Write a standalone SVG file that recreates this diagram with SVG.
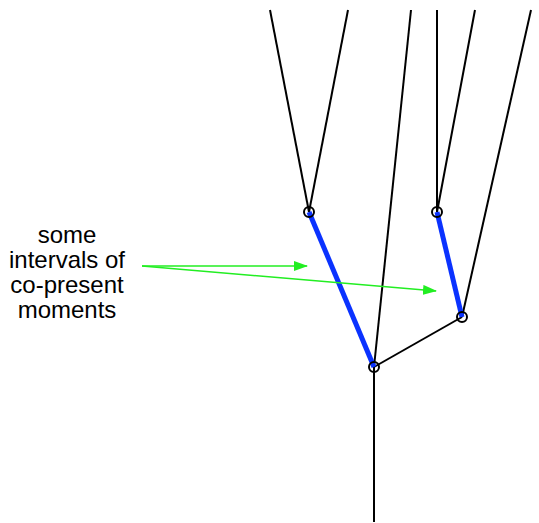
<svg xmlns="http://www.w3.org/2000/svg" width="539" height="523" viewBox="0 0 539 523">
<defs>
<style>
.ln{stroke:#000;stroke-width:2;fill:none}
.bl{stroke:#0a32ff;stroke-width:5;fill:none}
.gr{stroke:#22ee22;stroke-width:1.5;fill:none}
.nd{fill:none;stroke:#000;stroke-width:2}
text{font-family:"Liberation Sans",Arial,sans-serif;font-size:24px;fill:#000;text-anchor:middle}
</style>
<marker id="ah" markerWidth="14" markerHeight="10" refX="13" refY="5" orient="auto" markerUnits="userSpaceOnUse">
<path d="M0,0 L14,5 L0,10 Z" fill="#22ee22"/>
</marker>
</defs>
<g id="connectors">
<line class="ln" x1="270" y1="10" x2="309" y2="212"/>
<line class="ln" x1="348" y1="10" x2="309" y2="212"/>
<line class="ln" x1="411" y1="10" x2="374" y2="367"/>
<line class="ln" x1="437" y1="10" x2="437" y2="212"/>
<line class="ln" x1="475" y1="10" x2="437" y2="212"/>
<line class="ln" x1="531" y1="10" x2="462" y2="317"/>
<line class="ln" x1="374" y1="367" x2="462" y2="317"/>
<line class="ln" x1="374" y1="367" x2="374" y2="522"/>
<line class="bl" x1="309" y1="212" x2="374" y2="367"/>
<line class="bl" x1="437" y1="212" x2="462" y2="317"/>
<line class="gr" x1="142" y1="266" x2="307" y2="266" marker-end="url(#ah)"/>
<line class="gr" x1="142" y1="266" x2="436" y2="291" marker-end="url(#ah)"/>
</g>
<g id="nodeA"><circle class="nd" cx="309" cy="212" r="5"/></g>
<g id="nodeB"><circle class="nd" cx="437" cy="212" r="5"/></g>
<g id="nodeC"><circle class="nd" cx="462" cy="317" r="5"/></g>
<g id="nodeD"><circle class="nd" cx="374" cy="367" r="5"/></g>
<g id="label">
<text x="67" y="243">some</text>
<text x="67" y="268">intervals of</text>
<text x="67" y="293">co-present</text>
<text x="67" y="318">moments</text>
</g>
</svg>
